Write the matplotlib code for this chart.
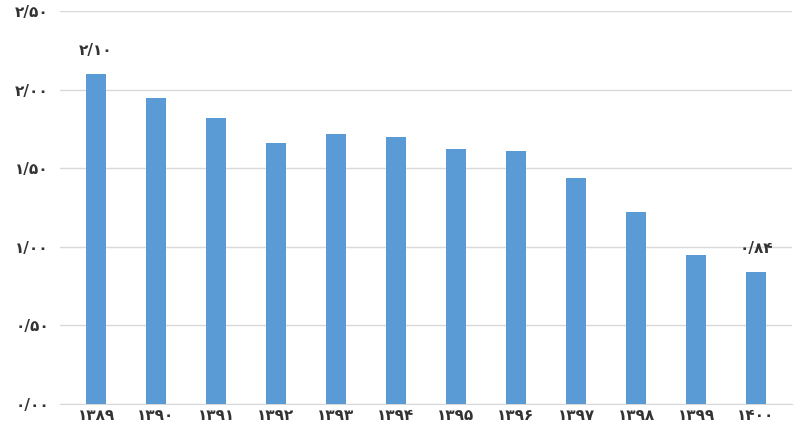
import matplotlib
matplotlib.use("Agg")
import matplotlib.pyplot as plt

years = ["۱۳۸۹","۱۳۹۰","۱۳۹۱","۱۳۹۲","۱۳۹۳","۱۳۹۴","۱۳۹۵","۱۳۹۶","۱۳۹۷","۱۳۹۸","۱۳۹۹","۱۴۰۰"]
values = [2.10, 1.95, 1.82, 1.66, 1.72, 1.70, 1.62, 1.61, 1.44, 1.22, 0.95, 0.84]
yticks = [0, 0.5, 1.0, 1.5, 2.0, 2.5]
ytick_labels = ["۰/۰۰","۰/۵۰","۱/۰۰","۱/۵۰","۲/۰۰","۲/۵۰"]
annot = {0: "۲/۱۰", 11: "۰/۸۴"}

plt.rcParams['font.family'] = ['DejaVu Sans']
fig = plt.figure(figsize=(8, 4.45), dpi=100)
ax = fig.add_axes([0.075, 0.092, 0.915, 0.883])
x = range(len(years))
ax.bar(x, values, width=0.33, color="#5B9BD5", zorder=3)
ax.set_ylim(0, 2.5)
ax.set_xlim(-0.6, 11.6)
ax.set_yticks(yticks)
ax.set_yticklabels(ytick_labels, fontsize=11, fontweight='bold', color='#333333')
ax.set_xticks(list(x))
ax.set_xticklabels(years, fontsize=11, fontweight='bold', color='#333333')
ax.grid(axis='y', color='#d9d9d9', linewidth=1, zorder=0)
for s in ['top', 'right', 'left']:
    ax.spines[s].set_visible(False)
ax.spines['bottom'].set_color('#d9d9d9')
ax.tick_params(axis='y', length=0, pad=8)
ax.tick_params(axis='x', length=0, pad=3)
for i, t in annot.items():
    ax.text(i, values[i] + 0.1, t, ha='center', va='bottom', fontsize=11, fontweight='bold', color='#333333')
fig.savefig("out.png")
